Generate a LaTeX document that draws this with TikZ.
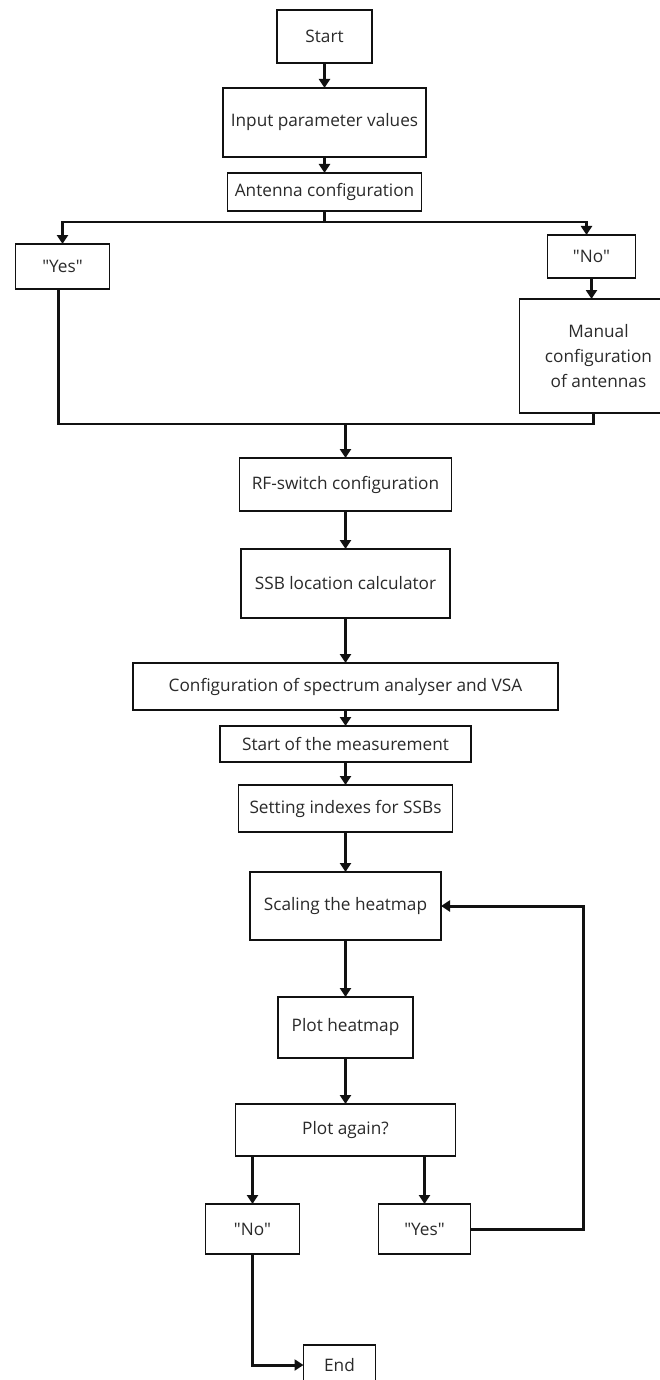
\documentclass[tikz,border=0pt]{standalone}
\usepackage{fontspec}
\setmainfont{Open Sans}
\usetikzlibrary{arrows.meta,positioning,calc}
\definecolor{Ink}{HTML}{111111}
\definecolor{Txt}{HTML}{2A2A2A}
\tikzset{
  arr/.style={-{Triangle[length=1.8mm,width=2.2mm]},line width=1.7pt,draw=Ink},
  wire/.style={line width=1.7pt,draw=Ink},
  flowbox/.style={draw=Ink,line width=1.1pt,fill=white,align=center,inner sep=1pt,outer sep=0pt,text=Txt,font=\fontsize{9.8}{14.2}\selectfont}
}
\newcommand{\qt}[1]{\textquotedbl#1\textquotedbl}
\begin{document}
\begin{tikzpicture}
  \useasboundingbox (0,0) rectangle (13.18,-27.6);
  % main column, upper part
  \node[flowbox,minimum width=1.9cm,minimum height=1.06cm] (start) at (6.49,-.73) {Start};
  \node[flowbox,below=.5cm of start,minimum width=4.06cm,minimum height=1.38cm] (input) {Input parameter values};
  \node[flowbox,below=.32cm of input,minimum width=3.88cm,minimum height=.76cm] (ant) {Antenna configuration};
  % branches
  \node[flowbox,below=.66cm of ant,xshift=-5.24cm,minimum width=1.88cm,minimum height=.9cm] (yesA) {\qt{Yes}};
  \node[flowbox,below=.48cm of ant,xshift=5.34cm,minimum width=1.76cm,minimum height=.86cm] (noA) {\qt{No}};
  \node[flowbox,below=.42cm of noA,xshift=.14cm,minimum width=3.16cm,minimum height=2.28cm] (manual) {Manual\\configuration\\of antennas};
  % main column, lower part
  \node[flowbox,below=4.94cm of ant,xshift=.42cm,minimum width=4.24cm,minimum height=1.06cm] (rf) {RF-switch configuration};
  \node[flowbox,below=.76cm of rf,minimum width=4.18cm,minimum height=1.38cm] (ssb) {SSB location calculator};
  \node[flowbox,below=.9cm of ssb,minimum width=8.5cm,minimum height=.94cm] (conf) {Configuration of spectrum analyser and VSA};
  \node[flowbox,below=.32cm of conf,minimum width=5.02cm,minimum height=.72cm] (meas) {Start of the measurement};
  \node[flowbox,below=.46cm of meas,minimum width=4.28cm,minimum height=.94cm] (idx) {Setting indexes for SSBs};
  \node[flowbox,below=.8cm of idx,minimum width=3.82cm,minimum height=1.36cm] (scaling) {Scaling the heatmap};
  \node[flowbox,below=1.14cm of scaling,minimum width=2.7cm,minimum height=1.22cm] (plot) {Plot heatmap};
  \node[flowbox,below=.92cm of plot,minimum width=4.4cm,minimum height=1.04cm] (again) {Plot again?};
  \node[flowbox,below=.96cm of again,xshift=-1.86cm,minimum width=1.88cm,minimum height=1cm] (noB) {\qt{No}};
  \node[flowbox,below=.96cm of again,xshift=1.58cm,minimum width=1.84cm,minimum height=1cm] (yesB) {\qt{Yes}};
  \node[flowbox,below=1.82cm of noB,xshift=1.74cm,minimum width=1.44cm,minimum height=.8cm] (stop) {End};
  % connectors
  \draw[arr] (start.south) -- (start.south|-input.north);
  \draw[arr] (input.south) -- (input.south|-ant.north);
  \draw[wire] (ant.south) -- ++(0,-.22) coordinate (split);
  \draw[arr] (split) -| (yesA);
  \draw[arr] (split) -| ([xshift=-.1cm]noA.north);
  \draw[arr] (noA.south) -- (noA.south|-manual.north);
  \coordinate (join) at ($(rf.north)+(0,.68)$);
  \draw[wire] ([xshift=-.08cm]yesA.south) |- (join) -| ([xshift=-.1cm]manual.south);
  \draw[arr] (join) -- (rf);
  \draw[arr] (rf) -- (ssb);
  \draw[arr] (ssb) -- (conf);
  \draw[arr] (conf) -- (meas);
  \draw[arr] (meas) -- (idx);
  \draw[arr] (idx) -- (scaling);
  \draw[arr] (scaling) -- (plot);
  \draw[arr] (plot) -- (again);
  \draw[arr] (noB|-again.south) -- (noB);
  \draw[arr] (yesB|-again.south) -- (yesB);
  \draw[arr] (yesB.east) -- ++(2.26,0) |- (scaling.east);
  \draw[arr] (noB) |- (stop);
\end{tikzpicture}
\end{document}
